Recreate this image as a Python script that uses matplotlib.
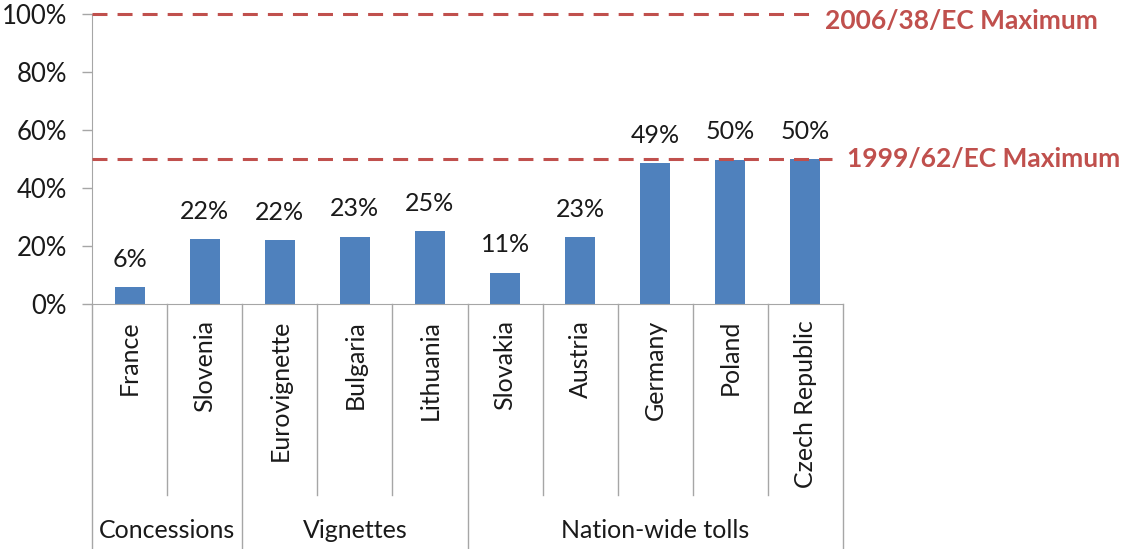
import matplotlib
matplotlib.use("Agg")
import matplotlib.pyplot as plt
import matplotlib.transforms as mtransforms

# data
countries = ["France", "Slovenia", "Eurovignette", "Bulgaria", "Lithuania",
             "Slovakia", "Austria", "Germany", "Poland", "Czech Republic"]
shares = [5.9, 22.4, 22.0, 23.2, 25.1, 10.8, 23.1, 48.6, 49.8, 50.0]
groups = ["Concessions", "Vignettes", "Nation-wide tolls"]
group_sizes = [2, 3, 5]
limits = [100, 50]
limit_labels = ["2006/38/EC Maximum", "1999/62/EC Maximum"]

bar_color = "#4F81BD"
red = "#C0504D"
grid_gray = "#A6A6A6"
txt = "#1a1a1a"

plt.rcParams['font.family'] = ['Lato', 'DejaVu Sans']

fig = plt.figure(figsize=(11.4, 5.49), dpi=100)
ax = fig.add_axes([92 / 1140, 1 - 304 / 549, 751 / 1140, 290 / 549])

x = list(range(len(countries)))
ax.bar(x, shares, width=0.4, color=bar_color, zorder=2)
for xi, v in zip(x, shares):
    ax.annotate(f"{round(v):d}%", (xi, v), xytext=(0, 20), textcoords="offset points",
                ha="center", va="center", fontsize=18, color=txt)

ax.set_xlim(-0.5, len(countries) - 0.5)
ax.set_ylim(0, 100)
ax.set_yticks(range(0, 101, 20))
ax.set_yticklabels([f"{t}%" for t in range(0, 101, 20)], fontsize=18.5, color=txt)
ax.set_xticks([])
ax.tick_params(axis="y", length=7, width=1, color=grid_gray, pad=11)
for s in ["top", "right"]:
    ax.spines[s].set_visible(False)
ax.spines["left"].set_color(grid_gray)
ax.spines["bottom"].set_color(grid_gray)

# limit lines
ends = [9.06, 9.35]
text_shift = [-5, 0]  # points
for lim, lab, end, dy in zip(limits, limit_labels, ends, text_shift):
    ax.plot([-0.5, end], [lim, lim], color=red, lw=2.2, ls=(0, (4.9, 3.3)),
            clip_on=False, zorder=3)
    ax.annotate(lab, (end, lim), xytext=(11, dy), textcoords="offset points",
                color=red, fontsize=19, fontweight="bold",
                ha="left", va="center", annotation_clip=False)

# category axis below
trans = mtransforms.blended_transform_factory(ax.transData, ax.transAxes)
inner_bottom = (304 - 495) / 290
outer_bottom = (304 - 549) / 290
edges = [-0.5]
for n in group_sizes:
    edges.append(edges[-1] + n)
for i in range(len(countries) + 1):
    xe = i - 0.5
    yb = outer_bottom if xe in edges else inner_bottom
    ax.plot([xe, xe], [0, yb], color=grid_gray, lw=1, transform=trans, clip_on=False)

for xi, c in zip(x, countries):
    ax.text(xi, -0.055, c, rotation=90, ha="center", va="top", fontsize=18,
            color=txt, transform=trans)

for g, a, b in zip(groups, edges[:-1], edges[1:]):
    ax.text((a + b) / 2, (304 - 531) / 290, g, ha="center", va="center",
            fontsize=18, color=txt, transform=trans)

fig.savefig("out.png", dpi=100)
